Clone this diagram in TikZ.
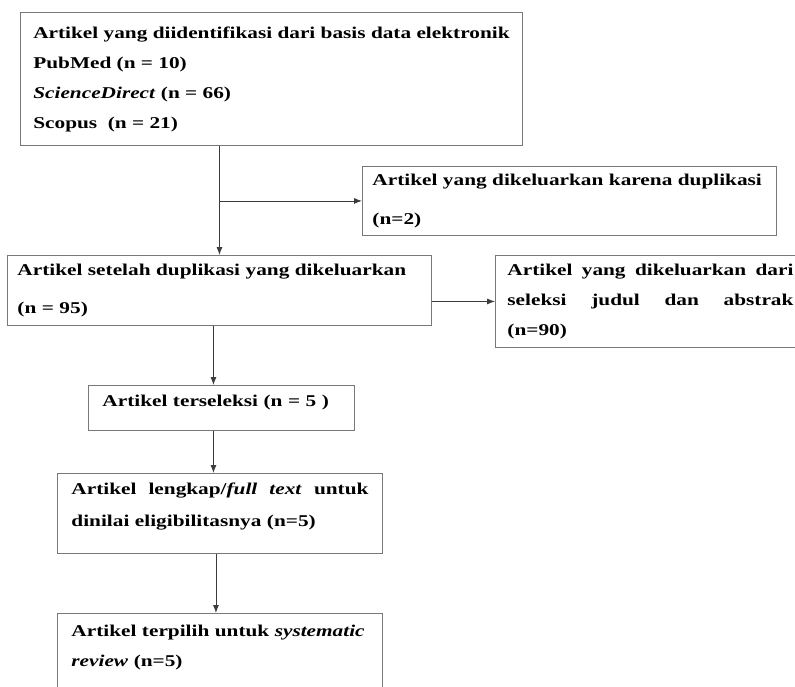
\documentclass[tikz,border=0pt]{standalone}
\usepackage{fontspec}
\setmainfont{Liberation Serif}[FakeStretch=1.29]
\usetikzlibrary{positioning,calc,arrows.meta}
\definecolor{boxgray}{RGB}{120,120,120}
\definecolor{linegray}{RGB}{60,60,60}
\newcommand{\pushup}[1]{\rule[-#1]{0pt}{1pt}}

\begin{document}
\begin{tikzpicture}[x=1pt,y=-1pt,>={Latex[length=8pt,width=6pt]},
  box/.style={draw=boxgray, line width=0.9pt, rectangle, anchor=north west,
    inner xsep=10pt, inner ysep=0pt, align=left,
    font=\fontsize{16.5}{30}\selectfont\bfseries},
  flow/.style={->, draw=linegray, line width=0.8pt}]
  \useasboundingbox (0,0) rectangle (795,686);
  \clip (0,0) rectangle (795,686);

  \node[box, inner xsep=0pt, minimum width=502pt, minimum height=133pt] (ident) at (20,12)
    {Artikel yang diidentifikasi dari basis data elektronik\\
     PubMed (n = 10)\\
     \textit{ScienceDirect} (n = 66)\\
     Scopus\ \ (n = 21)};
  \node[box, minimum width=414pt, minimum height=69pt, text width=394pt] (dupout) at (362,166)
    {Artikel yang dikeluarkan karena duplikasi\\[9pt] (n=2)};
  \node[box, minimum width=424pt, minimum height=70pt, text width=404pt] (afterdup) at (7,255)
    {Artikel setelah duplikasi yang dikeluarkan\\[8pt] (n = 95)};
  \node[box, inner xsep=12pt, minimum width=310pt, minimum height=92pt, text width=286pt] (tiabout) at (495,255)
    {Artikel\hfill yang\hfill dikeluarkan\hfill dari\\
     seleksi\hfill judul\hfill dan\hfill abstrak\\
     (n=90)};
  \node[box, inner xsep=14pt, minimum width=266pt, minimum height=45pt, text width=238pt] (selected) at (88,385)
    {Artikel terseleksi (n = 5 )\pushup{14pt}};
  \node[box, inner xsep=14pt, minimum width=325pt, minimum height=80pt, text width=297pt] (fulltext) at (57,473)
    {Artikel\hfill lengkap/\textit{full\hfill text}\hfill untuk\\[2pt]
     dinilai eligibilitasnya (n=5)\pushup{18pt}};
  \node[box, inner xsep=14pt, minimum width=325pt, minimum height=84pt, text width=297pt] (included) at (57,613)
    {Artikel terpilih untuk \textit{systematic}\\ \textit{review} (n=5)\pushup{20pt}};

  \coordinate (split) at (afterdup.north |- dupout.west);
  \draw[flow] (ident.south -| afterdup.north) -- (afterdup.north);
  \draw[flow] (split) -- (dupout.west);
  \draw[flow] (afterdup.east |- tiabout.west) -- (tiabout.west);
  \draw[flow] ([xshift=-6pt]afterdup.south) -- ([xshift=-6pt]afterdup.south |- selected.north);
  \draw[flow] ([xshift=-8pt]selected.south) -- ([xshift=-8pt]selected.south |- fulltext.north);
  \draw[flow] ([xshift=-4pt]fulltext.south) -- ([xshift=-4pt]fulltext.south |- included.north);
\end{tikzpicture}
\end{document}
